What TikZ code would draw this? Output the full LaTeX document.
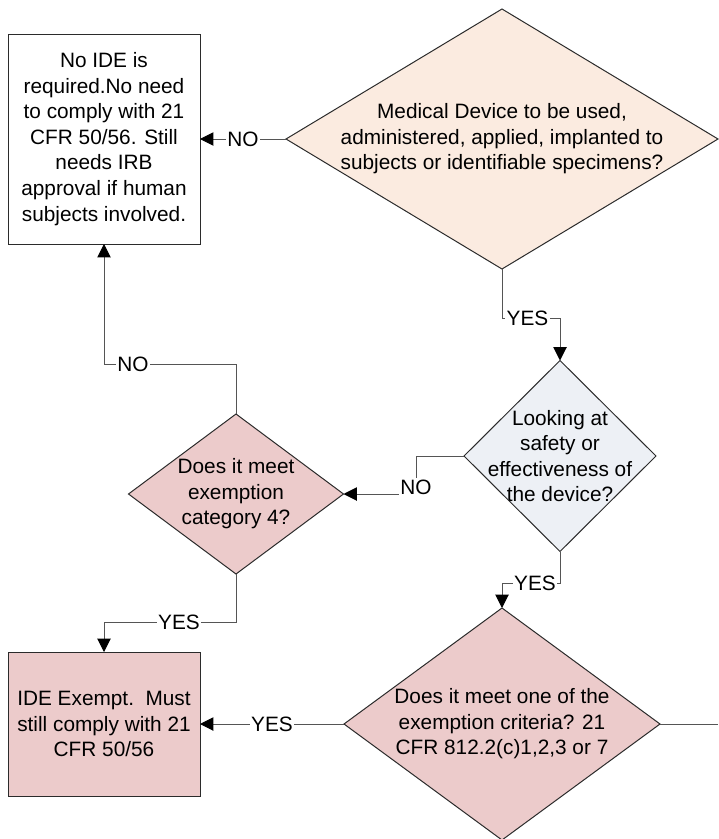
\documentclass[tikz,border=0pt]{standalone}
\usepackage{fontspec}
\setmainfont{Liberation Sans}
\usetikzlibrary{shapes.geometric,arrows.meta}
\definecolor{peach}{HTML}{FBEBE0}
\definecolor{bluegray}{HTML}{EDF0F5}
\definecolor{rose}{HTML}{ECCBCB}
\definecolor{edgec}{HTML}{2B2B2B}
\definecolor{wire}{HTML}{555555}
\begin{document}
\begin{tikzpicture}[x=0.75pt,y=-0.75pt,
  dia/.style={diamond, draw=edgec, line width=0.75pt, inner sep=0pt, outer sep=0pt},
  boxnode/.style={rectangle, draw=edgec, line width=0.75pt, inner sep=0pt, outer sep=0pt,
    align=center, font=\fontsize{15.6}{19.2}\selectfont},
  txt/.style={align=center, inner sep=0pt, font=\fontsize{15.6}{19.2}\selectfont},
  lbl/.style={fill=white, inner sep=1pt, font=\fontsize{15.6}{19.2}\selectfont},
  arr/.style={draw=wire, line width=0.75pt, -{Triangle[length=10pt,width=10pt,color=black]}},
  wireline/.style={draw=wire, line width=0.75pt}]
\path[use as bounding box] (0,0) rectangle (718,839);

% shapes
\node[boxnode, fill=white, minimum width=144pt, minimum height=157.5pt] (b1) at (104,139)
  {No IDE is\\ required.No need\\ to comply with 21\\ CFR 50/56. Still\\ needs IRB\\ approval if human\\ subjects involved.};
\node[dia, fill=peach, minimum width=324pt, minimum height=195pt] (d1) at (502,139) {};
\node[txt] (t1) at (d1.center) {Medical Device to be used,\\ administered, applied, implanted to\\ subjects or identifiable specimens?};
\node[dia, fill=bluegray, minimum width=144pt, minimum height=143.25pt] (d2) at (560,456) {};
\node[txt] (t2) at (d2.center) {Looking at\\ safety or\\ effectiveness of\\ the device?};
\node[dia, fill=rose, minimum width=161.25pt, minimum height=120pt] (d3) at (236,494) {};
\node[txt] (t3) at (d3.center) {Does it meet\\ exemption\\ category 4?};
\node[dia, fill=rose, minimum width=237pt, minimum height=174pt] (d4) at (502,724) {};
\node[txt] (t4) at (d4.center) {Does it meet one of the\\ exemption criteria? 21\\ CFR 812.2(c)1,2,3 or 7};
\node[boxnode, fill=rose, minimum width=144pt, minimum height=108pt] (b2) at (104,724)
  {IDE Exempt.\ \ Must\\ still comply with 21\\ CFR 50/56};

% bend points
\coordinate (k1) at (502,318);
\coordinate (k2) at (416,494);
\coordinate (k3) at (104,364);
\coordinate (k4) at (104,622);
\coordinate (k5) at (502,583);
\coordinate (kend) at (718,724);

% connectors
\draw[arr] (d1.west) -- node[lbl]{NO} (b1.east);
\draw[arr] (d1.south) -- (k1) -| node[lbl, pos=0.22]{YES} (d2.north);
\draw[arr] (d2.west) -| (k2) -- (d3.east);
\node[lbl] (n2) at (416,487) {NO};
\draw[arr] (d3.north) |- (k3) -- (b1.south);
\node[lbl] (n3) at (133,364) {NO};
\draw[arr] (d3.south) |- (k4) -- (b2.north);
\node[lbl] (y3) at (179,622) {YES};
\draw[arr] (d2.south) |- (k5) -- (d4.north);
\node[lbl] (y2) at (535,583) {YES};
\draw[arr] (d4.west) -- node[lbl]{YES} (b2.east);
\draw[wireline] (d4.east) -- (kend);
\end{tikzpicture}
\end{document}
